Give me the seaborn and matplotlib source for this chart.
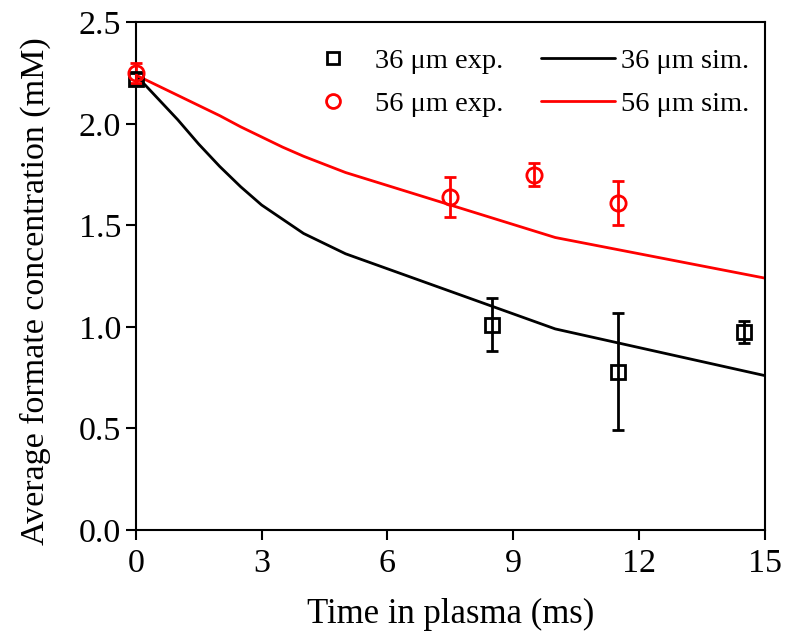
import numpy as np
import pandas as pd
import seaborn as sns
import matplotlib.pyplot as plt

# experimental data (time in ms, concentration in mM, error)
exp36_t = [0, 8.5, 11.5, 14.5]
exp36_c = [2.22, 1.01, 0.78, 0.975]
exp36_e = [0.03, 0.13, 0.29, 0.055]

exp56_t = [0, 7.5, 9.5, 11.5]
exp56_c = [2.25, 1.64, 1.75, 1.61]
exp56_e = [0.05, 0.10, 0.055, 0.11]

# simulation curves
sim_t = [0, 0.5, 1, 1.5, 2, 2.5, 3, 3.5, 4, 4.5, 5, 10, 15]
sim36_c = [2.24, 2.13, 2.02, 1.90, 1.79, 1.69, 1.60, 1.53, 1.46, 1.41, 1.36, 0.99, 0.76]
sim56_c = [2.24, 2.19, 2.14, 2.09, 2.04, 1.985, 1.935, 1.885, 1.84, 1.80, 1.76, 1.44, 1.24]

sns.set_theme(style="ticks")
plt.rcParams['font.family'] = ['Liberation Serif', 'DejaVu Serif']
plt.rcParams['text.color'] = 'black'
plt.rcParams['axes.labelcolor'] = 'black'
plt.rcParams['xtick.color'] = 'black'
plt.rcParams['ytick.color'] = 'black'

fig = plt.figure(figsize=(7.94, 6.34), dpi=100)
ax = fig.add_axes([0.171, 0.164, 0.7925, 0.801])

sim = pd.DataFrame({"t": sim_t * 2,
                    "c": sim36_c + sim56_c,
                    "size": ["36 \u03bcm sim."] * len(sim_t) + ["56 \u03bcm sim."] * len(sim_t)})
sns.lineplot(data=sim, x="t", y="c", hue="size", palette=["black", "#ff0000"],
             linewidth=2, ax=ax, legend=False)

ax.errorbar(exp36_t, exp36_c, yerr=exp36_e, fmt="s", color="black", mfc="none",
            mec="black", ms=9.5, mew=2, capsize=4.5, elinewidth=2, capthick=2,
            clip_on=False, zorder=3)
ax.errorbar(exp56_t, exp56_c, yerr=exp56_e, fmt="o", color="#ff0000", mfc="none",
            mec="#ff0000", ms=11, mew=2, capsize=4.5, elinewidth=2, capthick=2,
            clip_on=False, zorder=3)

l1 = plt.Line2D([], [], color="black", lw=2)
l2 = plt.Line2D([], [], color="#ff0000", lw=2)
h1m = plt.Line2D([], [], marker="s", ls="none", mfc="none", mec="black", ms=9, mew=2)
h2m = plt.Line2D([], [], marker="o", ls="none", mfc="none", mec="#ff0000", ms=10, mew=2)
ax.legend([h1m, h2m, l1, l2],
          ["36 \u03bcm exp.", "56 \u03bcm exp.", "36 \u03bcm sim.", "56 \u03bcm sim."],
          ncol=2, frameon=False, fontsize=20.5, loc="upper right",
          bbox_to_anchor=(1.015, 1.0), handlelength=2.6, columnspacing=1.3,
          handletextpad=0.2, labelspacing=0.62)

ax.set_xlim(0, 15)
ax.set_ylim(0, 2.5)
ax.set_xticks([0, 3, 6, 9, 12, 15])
ax.set_yticks([0, 0.5, 1.0, 1.5, 2.0, 2.5])
ax.set_yticklabels(["0.0", "0.5", "1.0", "1.5", "2.0", "2.5"])
ax.tick_params(direction="out", length=7, width=1.5, labelsize=24.5, top=False, right=False)
ax.tick_params(axis="x", pad=6)
for s in ax.spines.values():
    s.set_linewidth(1.5)
    s.set_color("black")
ax.set_xlabel("Time in plasma (ms)", fontsize=25, labelpad=14)
ax.set_ylabel("Average formate concentration (mM)", fontsize=24.5, labelpad=8)
ax.yaxis.set_label_coords(-0.135, 0.47)

fig.savefig("out.png", dpi=100)
